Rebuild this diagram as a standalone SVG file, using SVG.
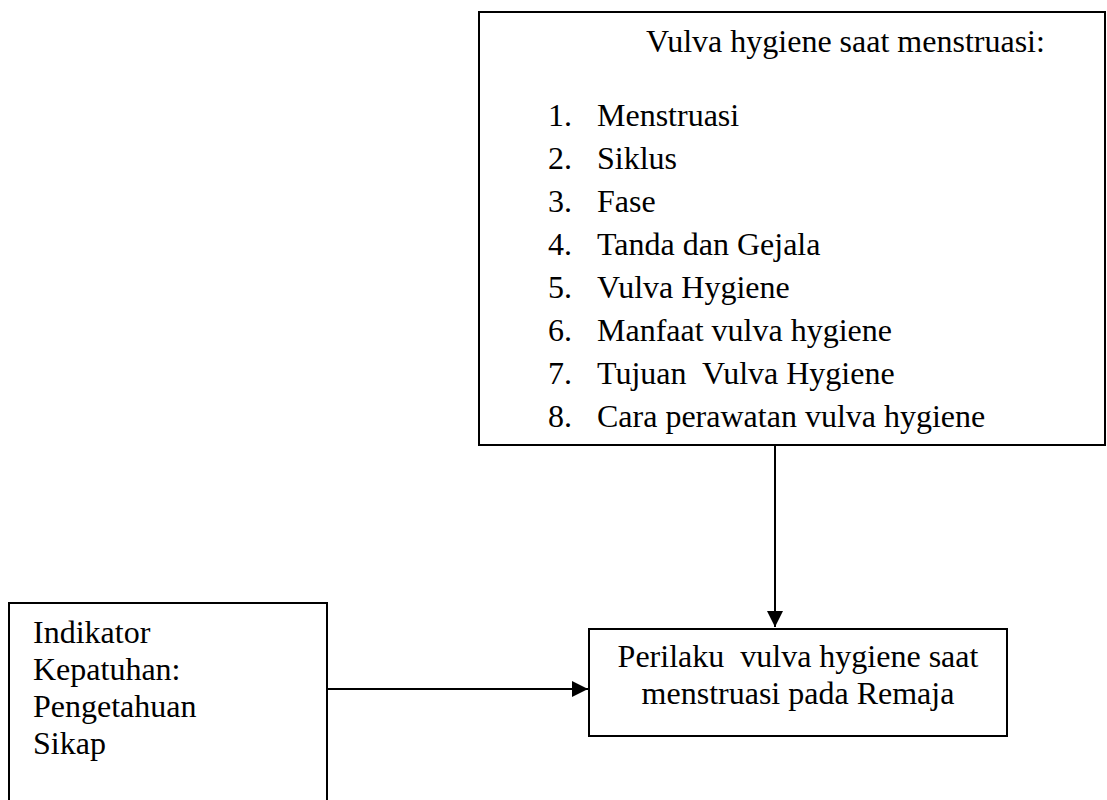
<svg xmlns="http://www.w3.org/2000/svg" width="1107" height="800" viewBox="0 0 1107 800">
<defs>
<style>
.box{fill:#fff;stroke:#000;stroke-width:2}
.t{font-family:"Liberation Serif","Times New Roman",serif;font-size:32px;fill:#000}
.c{text-anchor:middle}
.ln{stroke:#000;stroke-width:2;fill:none}
</style>
<marker id="ah" markerWidth="16" markerHeight="16" refX="16" refY="8" orient="auto" markerUnits="userSpaceOnUse">
<path d="M0,0 L16,8 L0,16 Z" fill="#000"/>
</marker>
</defs>
<rect width="1107" height="800" fill="#fff"/>
<g id="node-vulva-hygiene">
<rect class="box" x="479" y="12" width="626" height="433"/>
<text class="t" x="646" y="52">Vulva hygiene saat menstruasi:</text>
<text class="t" x="548" y="126">1.</text><text class="t" x="597" y="126">Menstruasi</text>
<text class="t" x="548" y="169">2.</text><text class="t" x="597" y="169">Siklus</text>
<text class="t" x="548" y="212">3.</text><text class="t" x="597" y="212">Fase</text>
<text class="t" x="548" y="255">4.</text><text class="t" x="597" y="255">Tanda dan Gejala</text>
<text class="t" x="548" y="298">5.</text><text class="t" x="597" y="298">Vulva Hygiene</text>
<text class="t" x="548" y="341">6.</text><text class="t" x="597" y="341">Manfaat vulva hygiene</text>
<text class="t" x="548" y="384">7.</text><text class="t" x="597" y="384" xml:space="preserve">Tujuan  Vulva Hygiene</text>
<text class="t" x="548" y="427">8.</text><text class="t" x="597" y="427">Cara perawatan vulva hygiene</text>
</g>
<g id="node-perilaku">
<rect class="box" x="589" y="629" width="418" height="107"/>
<text class="t c" x="798" y="667" xml:space="preserve">Perilaku  vulva hygiene saat</text>
<text class="t c" x="798" y="704">menstruasi pada Remaja</text>
</g>
<g id="node-indikator">
<path class="ln" d="M9,801 L9,603 L327,603 L327,801"/>
<text class="t" x="33" y="643">Indikator</text>
<text class="t" x="33" y="680">Kepatuhan:</text>
<text class="t" x="33" y="717">Pengetahuan</text>
<text class="t" x="33" y="754">Sikap</text>
</g>
<g id="connectors">
<line class="ln" x1="775" y1="445" x2="775" y2="627" marker-end="url(#ah)"/>
<line class="ln" x1="327" y1="689" x2="588" y2="689" marker-end="url(#ah)"/>
</g>
</svg>
